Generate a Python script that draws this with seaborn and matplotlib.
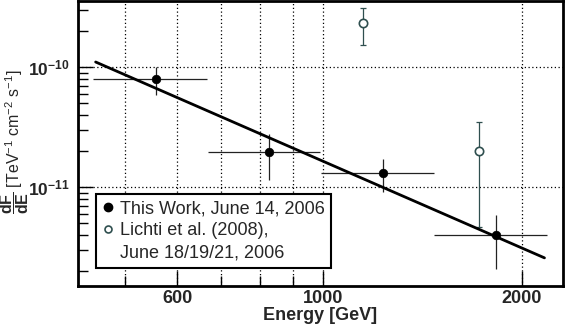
import numpy as np
import pandas as pd
import matplotlib
matplotlib.use("Agg")
import matplotlib.pyplot as plt
from matplotlib.lines import Line2D
import seaborn as sns

# --- data ---
this_energy = [557, 828, 1231, 1828]
this_flux = [8.0e-11, 1.98e-11, 1.32e-11, 4.0e-12]
this_e_lo = [447, 667, 991, 1472]
this_e_hi = [665, 989, 1472, 2183]
this_f_lo = [5.9e-11, 1.14e-11, 9.1e-12, 2.1e-12]
this_f_hi = [1.01e-10, 2.78e-11, 1.71e-11, 5.9e-12]

lichti_energy = [1150, 1725]
lichti_flux = [2.33e-10, 2.01e-11]
lichti_f_lo = [1.53e-10, 4.7e-12]
lichti_f_hi = [3.10e-10, 3.52e-11]

fit_energy = [451, 2165]
fit_flux = [1.107e-10, 2.58e-12]

x_major = [600, 1000, 2000]
x_minor = [500, 700, 800, 900]
y_major = [1e-11, 1e-10]
y_minor = [2e-12, 3e-12, 4e-12, 5e-12, 6e-12, 7e-12, 8e-12, 9e-12,
           2e-11, 3e-11, 4e-11, 5e-11, 6e-11, 7e-11, 8e-11, 9e-11,
           2e-10, 3e-10]

this_df = pd.DataFrame({"energy": this_energy, "flux": this_flux})
lichti_df = pd.DataFrame({"energy": lichti_energy, "flux": lichti_flux})
fit_df = pd.DataFrame({"energy": fit_energy, "flux": fit_flux})

LICHTI_COLOR = "#2f4f4f"

sns.set_theme(style="ticks")
plt.rcParams["font.family"] = ["Liberation Sans", "DejaVu Sans"]
plt.rcParams["mathtext.fontset"] = "custom"
plt.rcParams["mathtext.rm"] = "Liberation Sans"
plt.rcParams["mathtext.bf"] = "Liberation Sans:bold"
plt.rcParams["mathtext.it"] = "Liberation Sans:italic"

fig = plt.figure(figsize=(5.65, 3.27), dpi=100)
ax = fig.add_axes([0.138, 0.125, 0.8585, 0.872])
ax.set_xscale("log")
ax.set_yscale("log")
ax.set_xlim(424, 2310)
ax.set_ylim(1.5e-12, 3.57e-10)

# grid
for e in x_minor + x_major:
    ax.axvline(e, color="black", lw=0.9, ls=(0, (1, 2)), zorder=0)
for f in y_major:
    ax.axhline(f, color="black", lw=0.9, ls=(0, (1, 2)), zorder=0)

# error bars
this_xerr = [np.subtract(this_energy, this_e_lo), np.subtract(this_e_hi, this_energy)]
this_yerr = [np.subtract(this_flux, this_f_lo), np.subtract(this_f_hi, this_flux)]
ax.errorbar(this_energy, this_flux, xerr=this_xerr, yerr=this_yerr, fmt="none",
            ecolor="#222222", elinewidth=0.9, capsize=0, zorder=2)
lichti_yerr = [np.subtract(lichti_flux, lichti_f_lo), np.subtract(lichti_f_hi, lichti_flux)]
ax.errorbar(lichti_energy, lichti_flux, yerr=lichti_yerr, fmt="none",
            ecolor=LICHTI_COLOR, elinewidth=0.9, capsize=2.5, capthick=0.9, zorder=2)

# fit line
sns.lineplot(data=fit_df, x="energy", y="flux", ax=ax, color="black", lw=2, zorder=3)

# points
sns.scatterplot(data=this_df, x="energy", y="flux", ax=ax, color="black", s=38,
                edgecolor="black", linewidth=0.5, zorder=4)
sns.scatterplot(data=lichti_df, x="energy", y="flux", ax=ax, facecolor="white", s=36,
                edgecolor=LICHTI_COLOR, linewidth=1.2, zorder=4)

# ticks
ax.set_xticks(x_major)
ax.set_xticklabels([str(v) for v in x_major], fontsize=13, fontweight="bold")
ax.set_xticks(x_minor, minor=True)
ax.set_xticklabels([], minor=True)
ax.set_yticks(y_major)
ax.set_yticklabels([r"$\mathbf{10^{-11}}$", r"$\mathbf{10^{-10}}$"], fontsize=12.5)
ax.set_yticks(y_minor, minor=True)
ax.set_yticklabels([], minor=True)
ax.tick_params(axis="both", which="major", direction="in", length=11, width=1,
               color="black", pad=3)
ax.tick_params(axis="both", which="minor", direction="in", length=7, width=1, color="black")
ax.tick_params(axis="x", which="both", pad=3)
ax.tick_params(axis="y", which="major", pad=6)

for sp in ax.spines.values():
    sp.set_linewidth(2)
    sp.set_color("black")

ax.set_xlabel("Energy [GeV]", fontsize=13, fontweight="bold", labelpad=0)
ax.set_ylabel(r"$\dfrac{\mathbf{dF}}{\mathbf{dE}}$ [TeV$^{-1}$ cm$^{-2}$ s$^{-1}$]",
              fontsize=11.5, fontweight="normal")
ax.yaxis.set_label_coords(-0.096, 0.505)

handles = [
    Line2D([], [], marker="o", ls="none", color="black", markersize=6),
    Line2D([], [], marker="o", ls="none", markerfacecolor="white",
           markeredgecolor=LICHTI_COLOR, markeredgewidth=1.2, markersize=5),
    Line2D([], [], ls="none"),
]
labels = ["This Work, June 14, 2006", "Lichti et al. (2008),", "June 18/19/21, 2006"]
leg = ax.legend(handles, labels, loc="lower left", bbox_to_anchor=(0.037, 0.063),
                borderaxespad=0, fontsize=13, frameon=True, fancybox=False,
                handlelength=0.6, handletextpad=0.4, labelspacing=0.3,
                borderpad=0.35, framealpha=1)
leg.get_frame().set_edgecolor("black")
leg.get_frame().set_linewidth(1.5)

fig.savefig("out.png", dpi=100)
